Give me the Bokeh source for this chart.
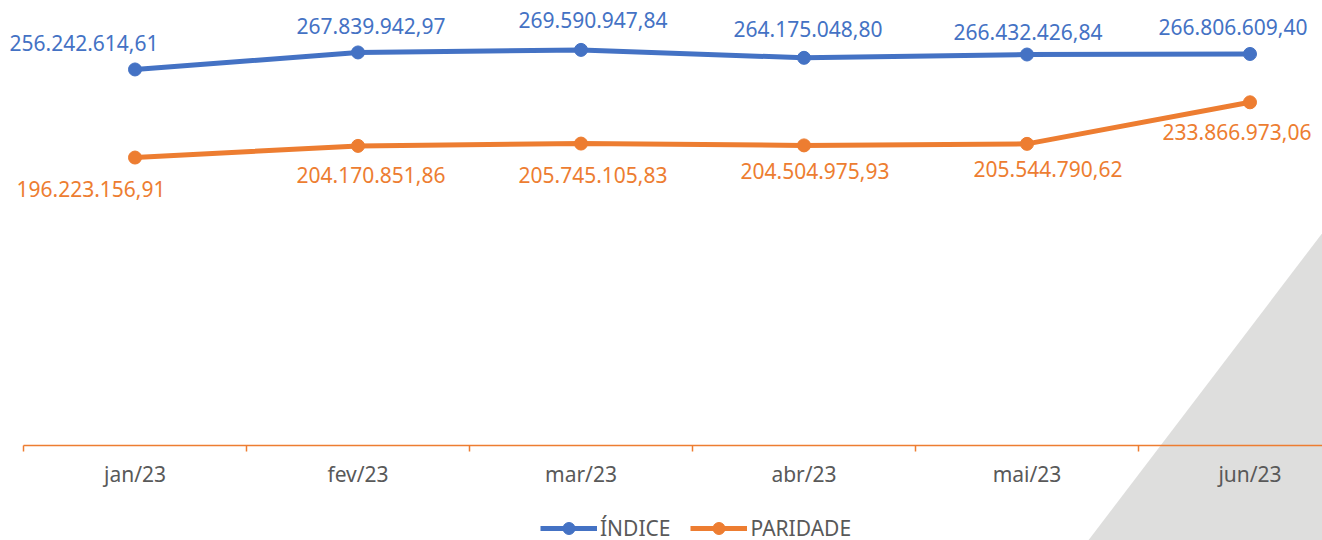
from bokeh.plotting import figure
from bokeh.models import (Range1d, FixedTicker, ColumnDataSource, Legend, LegendItem, PolyAnnotation)
from bokeh.embed import file_html
from bokeh.resources import INLINE
from bokeh.core.properties import value

categories = ["jan/23", "fev/23", "mar/23", "abr/23", "mai/23", "jun/23"]
indice = [256242614.61, 267839942.97, 269590947.84, 264175048.80, 266432426.84, 266806609.40]
paridade = [196223156.91, 204170851.86, 205745105.83, 204504975.93, 205544790.62, 233866973.06]

# label offsets (screen px, y down)
ind_dx = [-51, 13, 12, 4, 1, -17]
ind_dy = [-26, -26, -30, -29, -23, -27]
par_dx = [-44, 13, 12, 11, 21, -13]
par_dy = [31, 29, 31, 26, 25, 30]

BLUE = "#4472C4"
ORANGE = "#ED7D31"
GREY = "#595959"
FONT = "Noto Sans"


def fmt(v):
    s = f"{v:,.2f}"
    return s.replace(",", "X").replace(".", ",").replace("X", ".")


xs = [i + 0.5 for i in range(len(categories))]

src_i = ColumnDataSource(dict(x=xs, y=indice, t=[fmt(v) for v in indice], dx=ind_dx, dy=ind_dy))
src_p = ColumnDataSource(dict(x=xs, y=paridade, t=[fmt(v) for v in paridade], dx=par_dx, dy=par_dy))

W, H = 1322, 540
p = figure(width=W, height=H, output_backend="svg", toolbar_location=None,
           x_range=Range1d(-23 / 223, 1299 / 223), y_range=Range1d(-64.74e6, 303.24e6),
           y_axis_location=None, min_border_left=0, min_border_right=0,
           min_border_top=0, min_border_bottom=0)
p.outline_line_color = None
p.xgrid.visible = False
p.ygrid.visible = False
p.background_fill_color = "white"
p.border_fill_color = "white"

# decorative grey triangle (screen px relative to frame bottom-left, y up)
tri = PolyAnnotation(xs=[1323, 1323, 1087], ys=[309, -1, -1], xs_units="screen", ys_units="screen",
                     fill_color="#DEDEDD", fill_alpha=1, line_color=None, level="underlay")
p.add_layout(tri)

l1 = p.line("x", "y", source=src_i, line_color=BLUE, line_width=5)
s1 = p.scatter("x", "y", source=src_i, size=13, fill_color=BLUE, line_color=BLUE)
l2 = p.line("x", "y", source=src_p, line_color=ORANGE, line_width=5)
s2 = p.scatter("x", "y", source=src_p, size=13, fill_color=ORANGE, line_color=ORANGE)

p.text("x", "y", text="t", source=src_i, x_offset="dx", y_offset="dy", text_align="center",
       text_baseline="middle", text_color=BLUE, text_font=value(FONT), text_font_size="21px")
p.text("x", "y", text="t", source=src_p, x_offset="dx", y_offset="dy", text_align="center",
       text_baseline="middle", text_color=ORANGE, text_font=value(FONT), text_font_size="21px")

ax = p.xaxis[0]
ax.fixed_location = 0
ax.bounds = (0, len(categories) + 1)
ax.ticker = FixedTicker(ticks=xs, minor_ticks=list(range(len(categories) + 1)))
ax.major_label_overrides = {x: c for x, c in zip(xs, categories)}
ax.axis_line_color = ORANGE
ax.axis_line_width = 1.5
ax.major_tick_line_color = None
ax.major_tick_out = 0
ax.major_tick_in = 0
ax.minor_tick_line_color = ORANGE
ax.minor_tick_line_width = 1.5
ax.minor_tick_out = 6
ax.minor_tick_in = 0
ax.major_label_text_font = FONT
ax.major_label_text_font_size = "21px"
ax.major_label_text_color = GREY
ax.major_label_standoff = 9

legend = Legend(items=[LegendItem(label="ÍNDICE", renderers=[l1, s1]),
                       LegendItem(label="PARIDADE", renderers=[l2, s2])],
                orientation="horizontal", location=(540, -3),
                glyph_width=57, glyph_height=30, label_height=20, label_standoff=3, spacing=20,
                padding=0, margin=0, border_line_color=None, background_fill_alpha=0,
                label_text_font=FONT, label_text_font_size="21px", label_text_color=GREY)
p.add_layout(legend)

open("out.html", "w").write(file_html(p, INLINE))
